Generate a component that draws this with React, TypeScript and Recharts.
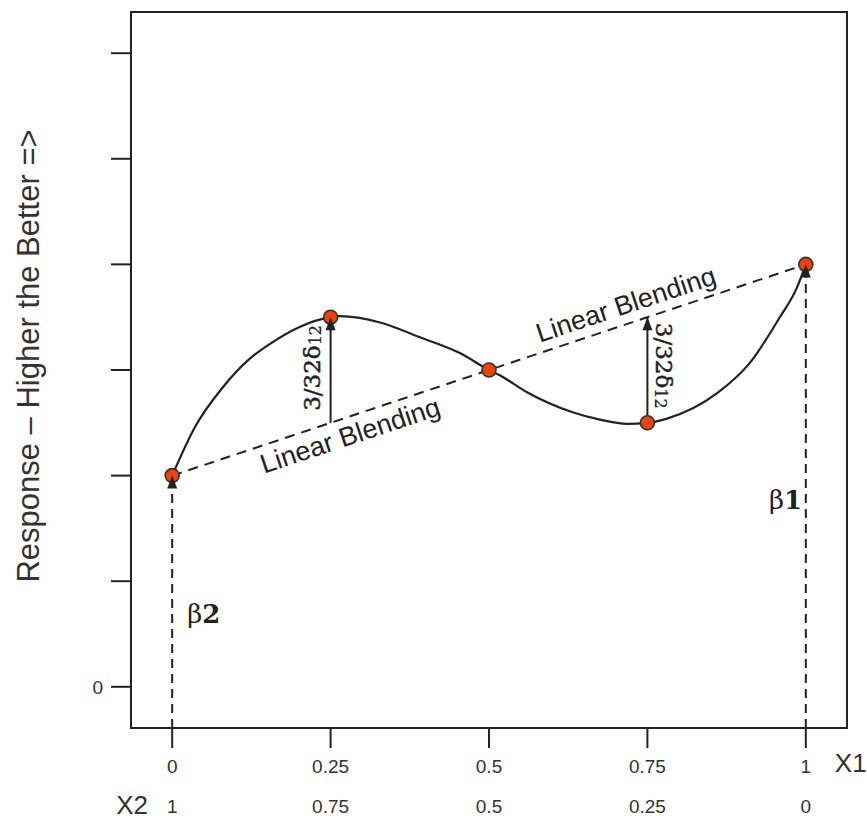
import { ComposedChart, Line, XAxis, YAxis, ReferenceArea, ReferenceDot } from 'recharts';

// Design points of the two-component mixture (X1 from 0 to 1, X2 = 1 - X1)
const X1_TICKS = [0, 0.25, 0.5, 0.75, 1];
const X2_LABELS = ['1', '0.75', '0.5', '0.25', '0'];
const Y_TICKS = [0, 1, 2, 3, 4, 5, 6];

const DESIGN_X1 = [0, 0.25, 0.5, 0.75, 1];
const DESIGN_Y = [2, 3.5, 3, 2.5, 4];

// Response curve
const CURVE_X1 = [0, 0.036, 0.079, 0.123, 0.155, 0.202, 0.25, 0.265, 0.328, 0.391, 0.454, 0.5, 0.517, 0.56, 0.632, 0.675, 0.718, 0.75, 0.781, 0.86, 0.912, 0.959, 0.986, 1];
const CURVE_Y = [2, 2.46, 2.83, 3.11, 3.25, 3.41, 3.5, 3.51, 3.45, 3.31, 3.16, 3.0, 2.95, 2.79, 2.6, 2.53, 2.49, 2.5, 2.54, 2.78, 3.07, 3.5, 3.78, 4.0];

// Linear blending line between the pure components
const BLEND_X1 = [0, 1];
const BLEND_Y = [2, 4];

// Arrows from the blending line up to the curve
const ARROW_X1 = [0.25, 0.75];
const ARROW_FROM = [2.5, 2.5];
const ARROW_TO = [3.5, 3.5];

// β drop lines from the axis to the pure-component responses
const DROP_X1 = [0, 1];
const DROP_TO = [2, 4];

const X_DOMAIN: [number, number] = [-0.065, 1.065];
const Y_DOMAIN: [number, number] = [-0.39, 6.39];

const INK = '#222';
const SANS = '"Liberation Sans", Arial, sans-serif';
const SERIF = '"DejaVu Serif", serif';

const pts = (xs: number[], ys: number[]) => xs.map((x, i) => ({ x, y: ys[i] }));

const curveData = pts(CURVE_X1, CURVE_Y);
const blendData = pts(BLEND_X1, BLEND_Y);
const designData = pts(DESIGN_X1, DESIGN_Y);

function arrowHead(props: any) {
  const { cx, cy, index } = props;
  if (index !== 1 || cx == null) return <g key={`h${index}`} />;
  return <path key={`h${index}`} d={`M${cx},${cy} L${cx - 5},${cy + 13} L${cx + 5},${cy + 13} Z`} fill={INK} />;
}

function designDot(props: any) {
  const { cx, cy, index } = props;
  return <circle key={`d${index}`} cx={cx} cy={cy} r={7} fill="#e8440c" stroke="#333" strokeWidth={1.6} />;
}

function XTick(props: any) {
  const { x, y, payload } = props;
  const i = X1_TICKS.indexOf(payload.value);
  return (
    <g fontFamily={SANS} fill="#333">
      <text x={x} y={y + 16} textAnchor="middle" dominantBaseline="central" fontSize={19}>{payload.value}</text>
      <text x={x} y={y + 56} textAnchor="middle" dominantBaseline="central" fontSize={19}>{X2_LABELS[i]}</text>
      {i === 0 && <text x={x - 40} y={y + 55} textAnchor="middle" dominantBaseline="central" fontSize={26}>X2</text>}
      {i === X1_TICKS.length - 1 && <text x={x + 29} y={y + 13} textAnchor="start" dominantBaseline="central" fontSize={26}>X1</text>}
    </g>
  );
}

const blendLabel = (p: any) => (
  <text x={p.cx} y={p.cy} transform={`rotate(-18.4 ${p.cx} ${p.cy})`} textAnchor="middle" dominantBaseline="central"
    fontFamily={SANS} fontSize={27} fill={INK}>Linear Blending</text>
);

const deltaLabel = (angle: number) => (p: any) => (
  <text x={p.cx} y={p.cy} transform={`rotate(${angle} ${p.cx} ${p.cy})`} textAnchor="middle" dominantBaseline="central"
    fontFamily={SERIF} fontSize={23} fill={INK} stroke={INK} strokeWidth={0.5}>
    3/32δ<tspan fontSize={16} dy={3} strokeWidth={0.2}>12</tspan>
  </text>
);

const betaLabel = (sub: string) => (p: any) => (
  <text x={p.cx} y={p.cy} textAnchor="middle" dominantBaseline="central" fontFamily={SERIF} fontSize={26} fill={INK}>
    β<tspan fontWeight="bold">{sub}</tspan>
  </text>
);

export default function App() {
  return (
    <div style={{ position: 'absolute', left: 0, top: 0, background: '#fff' }}>
      <ComposedChart width={867} height={818} margin={{ top: 12, right: 20, left: 0, bottom: 0 }}>
        <XAxis
          type="number"
          dataKey="x"
          domain={X_DOMAIN}
          ticks={X1_TICKS}
          allowDataOverflow
          height={90}
          tickSize={20}
          axisLine={{ stroke: INK, strokeWidth: 2 }}
          tickLine={{ stroke: INK, strokeWidth: 2 }}
          tick={<XTick />}
          interval={0}
        />
        <YAxis
          type="number"
          dataKey="y"
          domain={Y_DOMAIN}
          ticks={Y_TICKS}
          allowDataOverflow
          width={131}
          tickSize={20}
          tickMargin={8}
          axisLine={{ stroke: INK, strokeWidth: 2 }}
          tickLine={{ stroke: INK, strokeWidth: 2 }}
          tick={{ fontSize: 19, fill: '#333', fontFamily: SANS }}
          tickFormatter={(v: number) => (v === 0 ? '0' : '')}
          label={{
            content: (p: any) => {
              const vb = p.viewBox || {};
              const cx = (vb.x ?? 0) + 28;
              const cy = (vb.y ?? 12) + (vb.height ?? 716) / 2 - 14;
              return (
                <text x={cx} y={cy} transform={`rotate(-90 ${cx} ${cy})`} textAnchor="middle" dominantBaseline="central"
                  fontFamily={SANS} fontSize={31} fill="#333">
                  Response – Higher the Better =&gt;
                </text>
              );
            },
          }}
        />
        <ReferenceArea x1={X_DOMAIN[0]} x2={X_DOMAIN[1]} y1={Y_DOMAIN[0]} y2={Y_DOMAIN[1]} fill="none" stroke={INK} strokeWidth={2} ifOverflow="visible" />

        <Line data={curveData} dataKey="y" type="monotone" stroke={INK} strokeWidth={2.2} dot={false} activeDot={false} isAnimationActive={false} />
        <Line data={blendData} dataKey="y" type="linear" stroke={INK} strokeWidth={2} strokeDasharray="10 7" dot={false} activeDot={false} isAnimationActive={false} />
        <Line data={designData} dataKey="y" stroke="none" dot={designDot} activeDot={false} isAnimationActive={false} />
        {DROP_X1.map((x, i) => (
          <Line key={`drop${i}`} data={[{ x, y: Y_DOMAIN[0] }, { x, y: DROP_TO[i] }]} dataKey="y" type="linear" stroke={INK}
            strokeWidth={2} strokeDasharray="9 6" dot={arrowHead} activeDot={false} isAnimationActive={false} />
        ))}
        {ARROW_X1.map((x, i) => (
          <Line key={`arr${i}`} data={[{ x, y: ARROW_FROM[i] }, { x, y: ARROW_TO[i] }]} dataKey="y" type="linear" stroke={INK}
            strokeWidth={2} dot={arrowHead} activeDot={false} isAnimationActive={false} />
        ))}

        <ReferenceDot x={0.281} y={2.38} ifOverflow="visible" shape={blendLabel} />
        <ReferenceDot x={0.716} y={3.62} ifOverflow="visible" shape={blendLabel} />
        <ReferenceDot x={0.221} y={3.02} ifOverflow="visible" shape={deltaLabel(-90)} />
        <ReferenceDot x={0.776} y={3.04} ifOverflow="visible" shape={deltaLabel(90)} />
        <ReferenceDot x={0.968} y={1.77} ifOverflow="visible" shape={betaLabel('1')} />
        <ReferenceDot x={0.05} y={0.69} ifOverflow="visible" shape={betaLabel('2')} />
      </ComposedChart>
    </div>
  );
}
